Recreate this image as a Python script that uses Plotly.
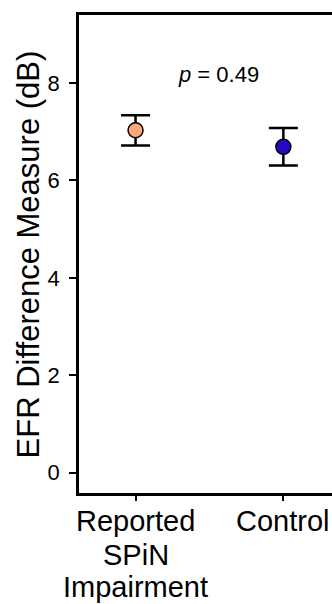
import plotly.graph_objects as go

# Group means and standard errors of the EFR difference measure (dB)
group_lines = [["Reported", "SPiN", "Impairment"], ["Control"]]
group_pos = [0, 1]
means = [7.03, 6.69]
sem = [0.31, 0.385]
colors = ["#F9A87A", "#2B06C6"]
p_label = "<i>p</i> = 0.49"

FONT = "Liberation Sans, Arial, sans-serif"

fig = go.Figure()
for x, m, e, c in zip(group_pos, means, sem, colors):
    fig.add_trace(go.Scatter(
        x=[x], y=[m], mode="markers",
        marker=dict(size=15, color=c, line=dict(color="black", width=1.5)),
        error_y=dict(type="data", array=[e], visible=True,
                     color="black", thickness=2.5, width=14.5),
        showlegend=False, hoverinfo="skip",
    ))

fig.add_annotation(x=0.56, y=8.17, xref="x", yref="y", text=p_label,
                   showarrow=False, font=dict(family=FONT, size=22, color="black"))

fig.add_annotation(x=-0.2, y=0.5, xref="paper", yref="paper",
                   text="EFR Difference Measure (dB)", textangle=-90,
                   showarrow=False, xanchor="center", yanchor="middle",
                   font=dict(family=FONT, size=31, color="black"))

# Category labels, one annotation per line for tight line spacing
line_offsets = [-27.5, -62, -94]
for x, lines in zip(group_pos, group_lines):
    for txt, dy in zip(lines, line_offsets):
        fig.add_annotation(x=x, y=0, xref="x", yref="paper", text=txt,
                           showarrow=False, xanchor="center", yanchor="middle",
                           yshift=dy,
                           font=dict(family=FONT, size=29, color="black"))

fig.update_xaxes(
    range=[-0.3826, 1.329], tickvals=group_pos, ticktext=["", ""],
    showline=True, linecolor="black", linewidth=2.5, mirror=True,
    ticks="outside", ticklen=5, tickwidth=2, tickcolor="black",
    showgrid=False, zeroline=False, automargin=False,
)
fig.update_yaxes(
    range=[-0.417, 9.397], tickvals=[0, 2, 4, 6, 8],
    showline=True, linecolor="black", linewidth=2.5, mirror=False,
    ticks="outside", ticklen=7, tickwidth=2, tickcolor="black",
    showgrid=False, zeroline=False, automargin=False,
    ticklabelstandoff=5,
    tickfont=dict(family=FONT, size=22, color="black"),
)

fig.update_layout(
    width=332, height=604,
    margin=dict(l=79, r=0, t=15, b=111),
    plot_bgcolor="white", paper_bgcolor="white",
)

fig.write_html("out.html")
